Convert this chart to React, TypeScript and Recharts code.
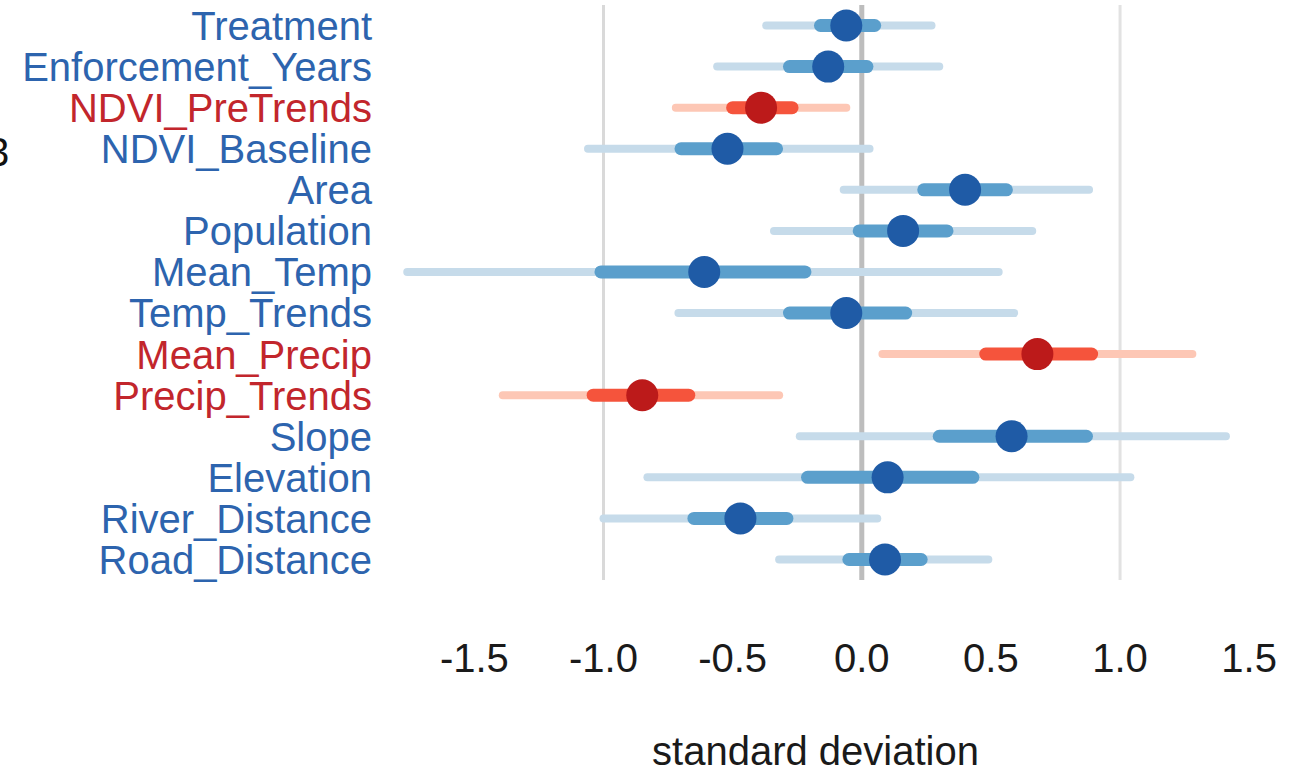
import { ComposedChart, Label, ReferenceLine, Scatter, XAxis, YAxis } from "recharts";

const labels = [
  "Treatment",
  "Enforcement_Years",
  "NDVI_PreTrends",
  "NDVI_Baseline",
  "Area",
  "Population",
  "Mean_Temp",
  "Temp_Trends",
  "Mean_Precip",
  "Precip_Trends",
  "Slope",
  "Elevation",
  "River_Distance",
  "Road_Distance",
];
const estimates = [-0.06, -0.13, -0.39, -0.52, 0.4, 0.16, -0.61, -0.06, 0.68, -0.85, 0.58, 0.1, -0.47, 0.09];
const outerLow = [-0.37, -0.56, -0.72, -1.06, -0.07, -0.34, -1.76, -0.71, 0.08, -1.39, -0.24, -0.83, -1.0, -0.32];
const outerHigh = [0.27, 0.3, -0.06, 0.03, 0.88, 0.66, 0.53, 0.59, 1.28, -0.32, 1.41, 1.04, 0.06, 0.49];
const innerLow = [-0.16, -0.28, -0.5, -0.7, 0.24, -0.01, -1.01, -0.28, 0.48, -1.04, 0.3, -0.21, -0.65, -0.05];
const innerHigh = [0.05, 0.02, -0.27, -0.33, 0.56, 0.33, -0.22, 0.17, 0.89, -0.67, 0.87, 0.43, -0.29, 0.23];
const highlighted = ["NDVI_PreTrends", "Mean_Precip", "Precip_Trends"];
const xTicks = [-1.5, -1.0, -0.5, 0, 0.5, 1.0, 1.5];

const rows = labels.map((name, i) => ({
  name,
  est: estimates[i],
  outerLow: outerLow[i],
  outerHigh: outerHigh[i],
  innerLow: innerLow[i],
  innerHigh: innerHigh[i],
  hot: highlighted.includes(name),
}));

const FONT = "'Liberation Sans', Arial, Helvetica, sans-serif";
const blue = { outer: "#c6dbea", inner: "#5b9fcc", dot: "#1f5ba6", text: "#2d64ae" };
const red = { outer: "#fdc7b5", inner: "#f5543c", dot: "#bc1a1a", text: "#c2262c" };

function YTick({ x, y, payload }: any) {
  const hot = highlighted.includes(payload.value);
  return (
    <text x={x} y={y} dy="0.36em" textAnchor="end" fontSize={40} fontFamily={FONT} fill={hot ? red.text : blue.text}>
      {payload.value}
    </text>
  );
}

function XTick({ x, y, payload }: any) {
  return (
    <text x={x} y={y + 92} textAnchor="middle" fontSize={40} fontFamily={FONT} fill="#1a1a1a">
      {payload.value.toFixed(1)}
    </text>
  );
}

function Dot(props: any) {
  const c = props.payload.hot ? red : blue;
  return <circle cx={props.cx} cy={props.cy} r={16} fill={c.dot} />;
}

export default function App() {
  return (
    <div style={{ position: "absolute", left: 0, top: 0, width: 1295, height: 772, background: "#fff", overflow: "hidden" }}>
      <span style={{ position: "absolute", left: -13, top: 132, fontSize: 40, lineHeight: 1, fontFamily: FONT, color: "#111" }}>3</span>
      <ComposedChart width={1295} height={772} data={rows} layout="vertical" margin={{ top: 5, right: 20, bottom: 0, left: 0 }}>
        <XAxis
          type="number"
          domain={[-1.85, 1.6]}
          ticks={xTicks}
          allowDataOverflow
          axisLine={false}
          tickLine={false}
          tickSize={0}
          tickMargin={0}
          height={192}
          tick={<XTick />}
        >
          <Label value="standard deviation" position="insideBottom" offset={7} dx={-14} fontSize={40} fontFamily={FONT} fill="#1a1a1a" />
        </XAxis>
        <YAxis
          type="category"
          dataKey="name"
          width={384}
          axisLine={false}
          tickLine={false}
          tickSize={0}
          tickMargin={12}
          interval={0}
          padding={{ top: 20.5, bottom: 20.5 }}
          tick={<YTick />}
        />
        <ReferenceLine x={-1} stroke="#d9d9d9" strokeWidth={3} />
        <ReferenceLine x={1} stroke="#e2e2e2" strokeWidth={3} />
        <ReferenceLine x={0} stroke="#bdbdbd" strokeWidth={5} />
        {rows.map((r) => (
          <ReferenceLine
            key={"o-" + r.name}
            segment={[{ x: r.outerLow, y: r.name }, { x: r.outerHigh, y: r.name }]}
            stroke={r.hot ? red.outer : blue.outer}
            strokeWidth={8}
            strokeLinecap="round"
            ifOverflow="visible"
          />
        ))}
        {rows.map((r) => (
          <ReferenceLine
            key={"i-" + r.name}
            segment={[{ x: r.innerLow, y: r.name }, { x: r.innerHigh, y: r.name }]}
            stroke={r.hot ? red.inner : blue.inner}
            strokeWidth={13}
            strokeLinecap="round"
            ifOverflow="visible"
          />
        ))}
        <Scatter dataKey="est" isAnimationActive={false} shape={<Dot />} />
      </ComposedChart>
    </div>
  );
}
